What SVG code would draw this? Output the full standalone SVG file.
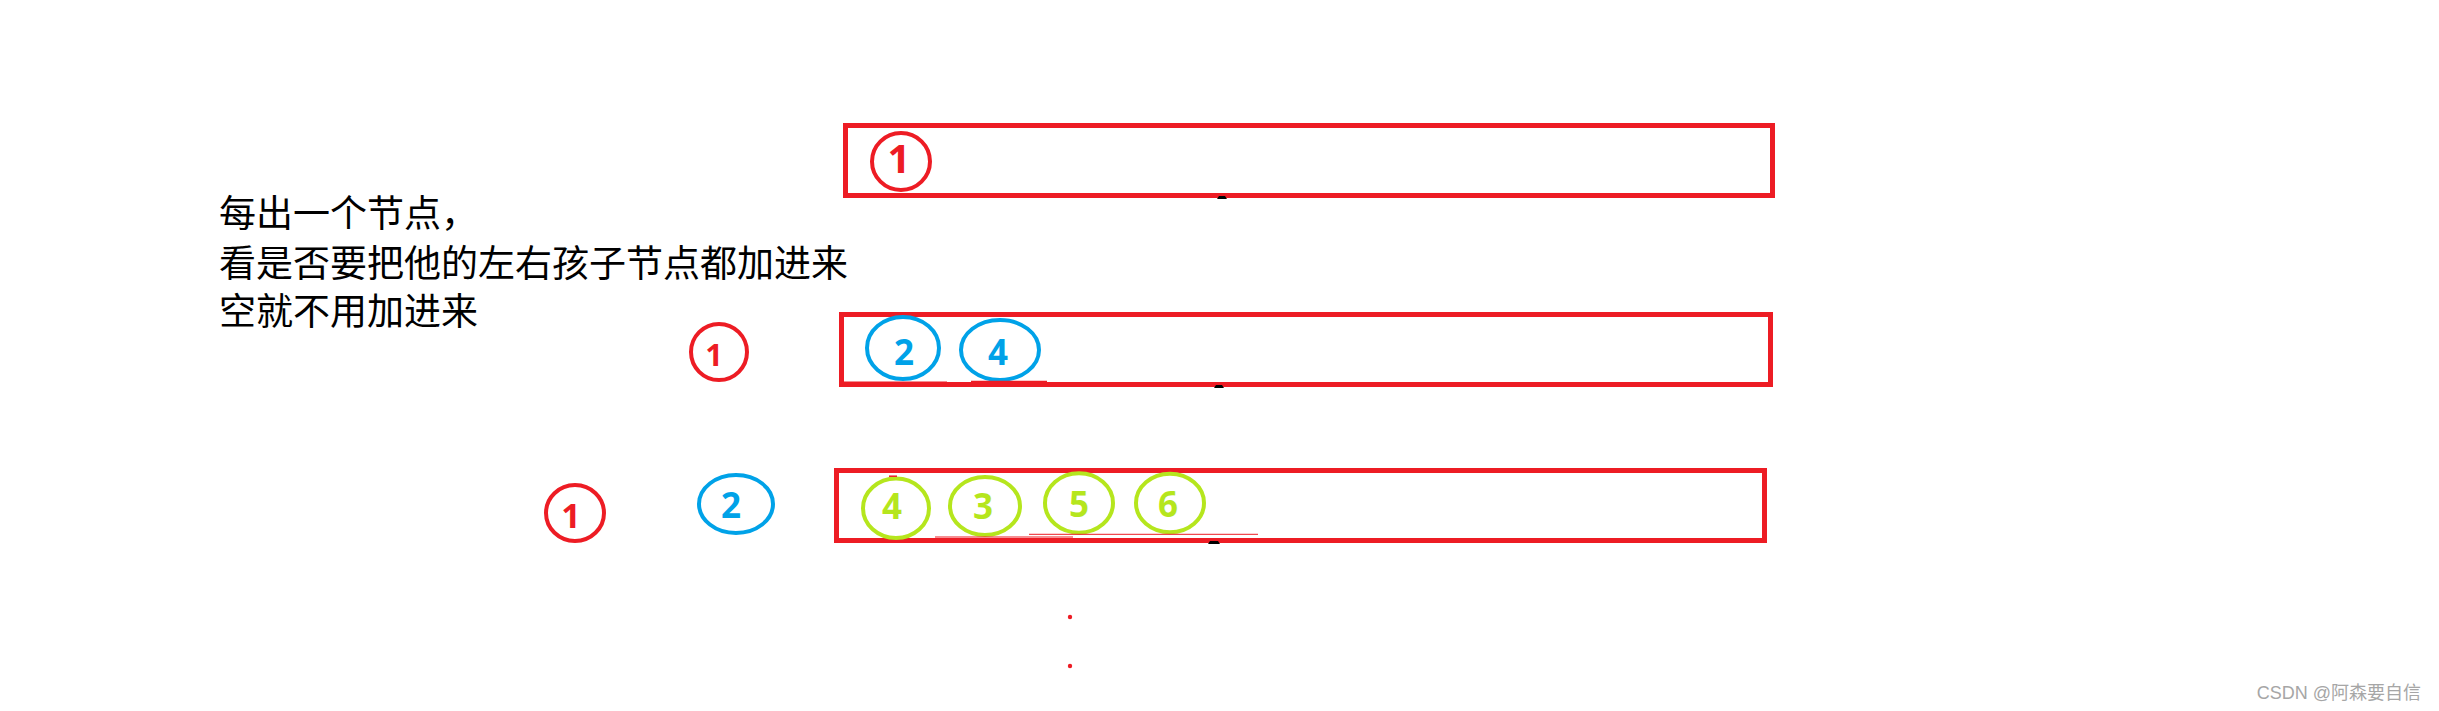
<svg xmlns="http://www.w3.org/2000/svg" width="2439" height="711" viewBox="0 0 2439 711">
<style>
.box{fill:none;stroke:#ed1c24;stroke-width:5}
.cr{fill:none;stroke:#ed1c24;stroke-width:4}
.cb{fill:none;stroke:#00a2e8;stroke-width:4}
.cg{fill:none;stroke:#b5e61d;stroke-width:4}
.d{font-family:"Noto Sans","Liberation Sans",sans-serif;font-weight:bold;text-anchor:middle;font-size:35px}
.tr{fill:#ed1c24}.tb{fill:#00a2e8}.tg{fill:#b5e61d}
.note{font-family:"Noto Sans CJK SC","Microsoft YaHei",sans-serif;font-size:37px;fill:#000}
.thin{stroke:#ed1c24;fill:none}
.mark{fill:#000}
</style>
<rect width="2439" height="711" fill="#fff"/>
<g id="note">
<text class="note" x="219" y="227">每出一个节点，</text>
<text class="note" x="219" y="277">看是否要把他的左右孩子节点都加进来</text>
<text class="note" x="219" y="325">空就不用加进来</text>
</g>
<g id="queue1">
<rect class="box" x="845.5" y="125.5" width="927" height="70"/>
<ellipse class="cr" cx="901" cy="161.5" rx="29" ry="28.5"/>
<text class="d tr" x="899" y="173" style="font-size:40px">1</text>
<path class="mark" d="M1217 199 L1219 196 L1225 196 L1227 199 Z"/>
</g>
<g id="queue2">
<rect class="box" x="841.5" y="314.5" width="929" height="70"/>
<ellipse class="cr" cx="719" cy="352" rx="28" ry="28"/>
<text class="d tr" x="714" y="366" style="font-size:31px">1</text>
<ellipse class="cb" cx="903" cy="348" rx="36" ry="31"/>
<text class="d tb" x="904" y="365">2</text>
<ellipse class="cb" cx="1000" cy="350" rx="39" ry="30"/>
<text class="d tb" x="998" y="365">4</text>
<line class="thin" x1="841" y1="382.5" x2="947" y2="382.5" stroke-width="2"/>
<line class="thin" x1="971" y1="381.3" x2="1047" y2="381.3" stroke-width="1.3"/>
<path class="mark" d="M1214 388 L1216 385 L1222 385 L1224 388 Z"/>
</g>
<g id="queue3">
<rect class="box" x="836.5" y="470.5" width="928" height="70"/>
<ellipse class="cr" cx="575" cy="513" rx="29" ry="28"/>
<text class="d tr" x="571" y="528" style="font-size:34px">1</text>
<ellipse class="cb" cx="736" cy="504" rx="37" ry="29"/>
<text class="d tb" x="731" y="518">2</text>
<ellipse class="cg" cx="896" cy="508.3" rx="33" ry="29.7"/>
<text class="d tg" x="892" y="519">4</text>
<ellipse class="cg" cx="985" cy="506" rx="35" ry="29"/>
<text class="d tg" x="983" y="519">3</text>
<ellipse class="cg" cx="1079" cy="503" rx="34" ry="29.7"/>
<text class="d tg" x="1079" y="517">5</text>
<ellipse class="cg" cx="1170" cy="503" rx="34" ry="29.3"/>
<text class="d tg" x="1168" y="517">6</text>
<line class="thin" x1="889" y1="476.2" x2="897" y2="476.2" stroke-width="1.5"/>
<line class="thin" x1="935" y1="537" x2="1073" y2="537" stroke-width="1"/>
<line class="thin" x1="1029" y1="534.3" x2="1258" y2="534.3" stroke-width="1"/>
<path class="mark" d="M1208 544 L1210 541 L1218 541 L1220 544 Z"/>
</g>
<g id="dots">
<circle cx="1070" cy="617" r="2.2" fill="#ed1c24"/>
<circle cx="1070" cy="666" r="2.2" fill="#ed1c24"/>
</g>
<g id="connectors"></g>
<text x="2421" y="699" text-anchor="end" style="font-family:'Liberation Sans','Noto Sans CJK SC',sans-serif;font-size:18px;fill:#a6a6a6">CSDN @阿森要自信</text>
</svg>
